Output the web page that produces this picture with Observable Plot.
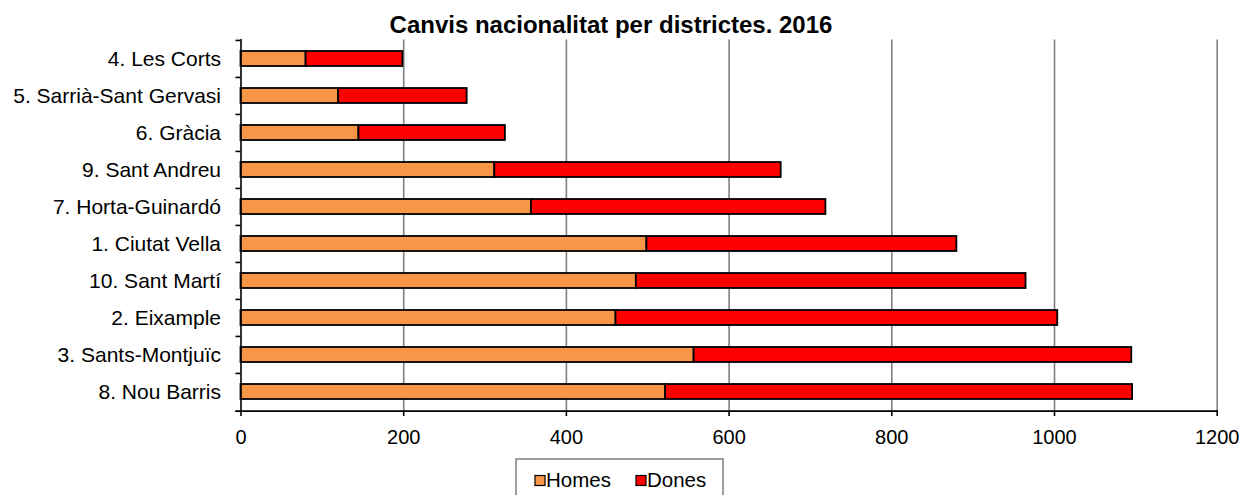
<!DOCTYPE html>
<html>
<head>
<meta charset="utf-8">
<script src="https://cdn.jsdelivr.net/npm/d3@7"></script>
<script src="https://cdn.jsdelivr.net/npm/@observablehq/plot@0.6"></script>
<style>
  html, body { margin: 0; padding: 0; background: #fff; }
  #wrap { position: relative; width: 1251px; height: 495px; overflow: hidden; font-family: "Liberation Sans", Arial, sans-serif; }
  #wrap svg { position: absolute; left: 0; top: 0; }
</style>
</head>
<body>
<div id="wrap"></div>
<script>
const title = "Canvis nacionalitat per districtes. 2016";
const districts = ["4. Les Corts", "5. Sarrià-Sant Gervasi", "6. Gràcia", "9. Sant Andreu", "7. Horta-Guinardó", "1. Ciutat Vella", "10. Sant Martí", "2. Eixample", "3. Sants-Montjuïc", "8. Nou Barris"];
const homes = [80, 120, 145, 312, 357, 499, 486, 461, 557, 522];
const dones = [119, 158, 180, 352, 362, 381, 479, 543, 538, 574];
const series = ["Homes", "Dones"];
const colors = ["#f79646", "#ff0000"];
const xTicks = [0, 200, 400, 600, 800, 1000, 1200];

const data = [];
districts.forEach((d, i) => {
  data.push({district: d, sex: "Homes", value: homes[i]});
  data.push({district: d, sex: "Dones", value: dones[i]});
});

const W = 1251, H = 495;
const mt = 39.4, mb = H - 410.6, ml = 240.5, mr = W - 1216.7;
const step = (H - mt - mb) / districts.length;
const font = "Liberation Sans, Arial, sans-serif";

const plot = Plot.plot({
  width: W,
  height: H,
  marginTop: mt,
  marginBottom: mb,
  marginLeft: ml,
  marginRight: mr,
  style: {fontFamily: font, background: "transparent", color: "#000"},
  x: {domain: [0, 1200], label: null},
  y: {domain: districts, paddingInner: 0.6, paddingOuter: 0.3, label: null},
  color: {domain: series, range: colors},
  marks: [
    Plot.ruleX(xTicks.filter(t => t > 0), {stroke: "#808080", strokeWidth: 1.6}),
    Plot.barX(data, {x: "value", y: "district", fill: "sex", stroke: "#000", strokeWidth: 1.8, order: null}),
    Plot.frame({anchor: "left", stroke: "#000", strokeWidth: 1.6}),
    Plot.frame({anchor: "bottom", stroke: "#000", strokeWidth: 1.6, insetLeft: -5}),
    Plot.axisY(districts, {tickSize: 5, text: null, label: null, dy: -step / 2, stroke: "#000", strokeWidth: 1.6}),
    Plot.axisY(districts, {tickSize: 0, tickPadding: 20, label: null, fontSize: 21, fill: "#000"}),
    Plot.axisX(xTicks, {tickSize: 5.5, tickPadding: 13, label: null, tickFormat: d => String(d), fontSize: 20, fill: "#000", stroke: "#000", strokeWidth: 1.6})
  ]
});
document.getElementById("wrap").appendChild(plot);

// Title and legend overlay
const ov = d3.select("#wrap").append("svg")
  .attr("width", W).attr("height", H)
  .style("font-family", font);
ov.append("text")
  .attr("x", 611).attr("y", 33.3)
  .attr("text-anchor", "middle")
  .attr("font-size", 24).attr("font-weight", "bold")
  .text(title);

const lg = ov.append("g");
lg.append("rect")
  .attr("x", 516).attr("y", 459).attr("width", 207).attr("height", 60)
  .attr("fill", "#fff").attr("stroke", "#808080").attr("stroke-width", 1.5);
const itemX = [535, 636];
series.forEach((s, i) => {
  lg.append("rect")
    .attr("x", itemX[i]).attr("y", 475.5).attr("width", 10).attr("height", 10)
    .attr("fill", colors[i]).attr("stroke", "#000").attr("stroke-width", 1.2);
  lg.append("text")
    .attr("x", itemX[i] + 11).attr("y", 486.7)
    .attr("font-size", 20.5).attr("fill", "#000")
    .text(s);
});
</script>
</body>
</html>
